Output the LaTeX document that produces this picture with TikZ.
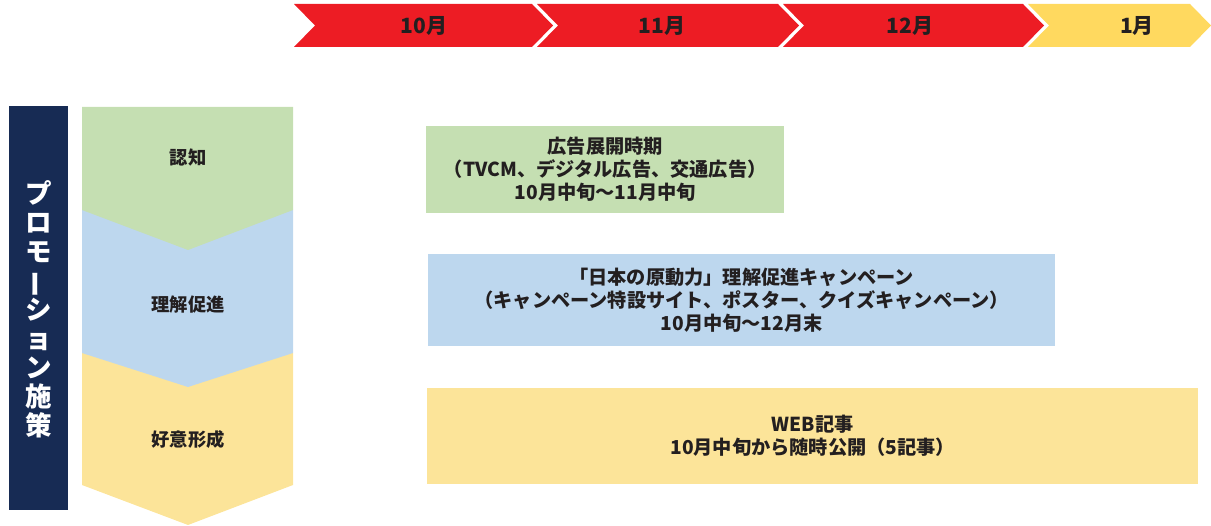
\documentclass[tikz,border=0pt]{standalone}
\usepackage{fontspec}
\setmainfont{Noto Sans CJK JP}
\usepackage{graphicx}
\definecolor{hred}{HTML}{ED1C24}
\definecolor{hyel}{HTML}{FFD95F}
\definecolor{navy}{HTML}{172B54}
\definecolor{cgreen}{HTML}{C5DFB2}
\definecolor{cblue}{HTML}{BDD7EE}
\definecolor{cyel}{HTML}{FCE499}
\definecolor{ink}{HTML}{231F20}
\begin{document}
\begin{tikzpicture}[x=1pt,y=-1pt,
  month/.style={font=\fontsize{21}{24}\selectfont\bfseries, text=ink, inner sep=0},
  txt/.style={font=\fontsize{18.3}{22.5}\selectfont\bfseries, text=ink, align=center, inner sep=0},
  planbox/.style={anchor=north west, inner sep=0, font=\fontsize{19.2}{23}\selectfont\bfseries, text=ink, align=center}]
\useasboundingbox (0,0) rectangle (1211,526);
% header chevrons
\fill[hred] (294,4) -- (532,4) -- (553,25.5) -- (532,47) -- (294,47) -- (315,25.5) -- cycle;
\fill[hred] (537,4) -- (778,4) -- (799,25.5) -- (778,47) -- (537,47) -- (558,25.5) -- cycle;
\fill[hred] (783,4) -- (1023,4) -- (1044,25.5) -- (1023,47) -- (783,47) -- (804,25.5) -- cycle;
\fill[hyel] (1028,4) -- (1190,4) -- (1211,25.5) -- (1190,47) -- (1028,47) -- (1049,25.5) -- cycle;
\node[month] (m10) at (424,26) {10月};
\node[month] (m11) at (662,26) {11月};
\node[month] (m12) at (910,26) {12月};
\node[month] (m1) at (1137,26) {1月};
% navy bar
\fill[navy] (9,106) rectangle (68,510);
\node[font=\fontsize{26.5}{29}\selectfont\bfseries, text=white, align=center, inner sep=0] (vt) at (39,309)
  {プ\\ロ\\モ\\\rotatebox[origin=c]{90}{ー}\\シ\\ョ\\ン\\施\\策};
% funnel chevrons
\fill[cyel] (82,353) -- (293,353) -- (293,485) -- (188,525) -- (82,485) -- cycle;
\fill[cblue] (82,210) -- (293,210) -- (293,353) -- (188,387) -- (82,353) -- cycle;
\fill[cgreen] (82,107) -- (293,107) -- (293,210) -- (188,250) -- (82,210) -- cycle;
\node[txt] (s1) at (188,158) {認知};
\node[txt] (s2) at (188,305) {理解促進};
\node[txt] (s3) at (188,440) {好意形成};
% plan boxes
\node[planbox, fill=cgreen, minimum width=358pt, minimum height=87pt] (b1) at (426,126)
  {広告展開時期\\（TVCM、デジタル広告、交通広告）\\10月中旬〜11月中旬};
\node[planbox, fill=cblue, minimum width=627pt, minimum height=92pt] (b2) at (428,254)
  {「日本の原動力」理解促進キャンペーン\\（キャンペーン特設サイト、ポスター、クイズキャンペーン）\\10月中旬〜12月末};
\node[planbox, fill=cyel, minimum width=771pt, minimum height=96pt] (b3) at (427,388)
  {WEB記事\\10月中旬から随時公開（5記事）};
\end{tikzpicture}
\end{document}
